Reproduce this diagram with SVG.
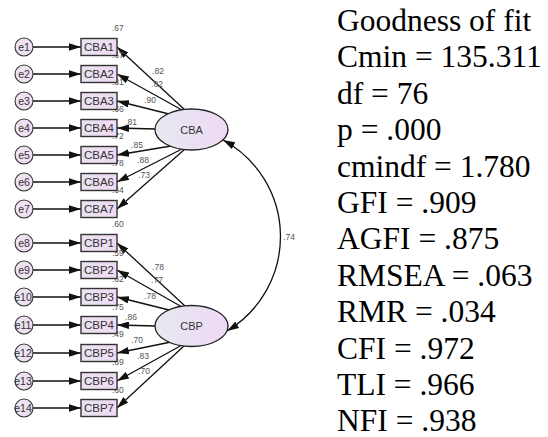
<svg xmlns="http://www.w3.org/2000/svg" width="548" height="437" viewBox="0 0 548 437">
<style>
.box{fill:url(#gb);stroke:#333;stroke-width:1.4}
.err{fill:url(#ge);stroke:#333;stroke-width:1.1}
.lat{fill:url(#gl);stroke:#222;stroke-width:1.3}
.bt{font-family:"Liberation Sans",Arial,sans-serif;font-size:11.5px;fill:#333;text-anchor:middle}
.et{font-family:"Liberation Sans",Arial,sans-serif;font-size:10.5px;fill:#333;text-anchor:middle}
.lt{font-family:"Liberation Sans",Arial,sans-serif;font-size:11px;fill:#333;text-anchor:middle}
.n{font-family:"Liberation Sans",Arial,sans-serif;font-size:8.5px;fill:#555}
.nm{font-family:"Liberation Sans",Arial,sans-serif;font-size:8.5px;fill:#555;text-anchor:middle}
.c{stroke:#111;stroke-width:1.3;fill:none;marker-end:url(#ah)}
.st{font-family:"Liberation Serif","Times New Roman",serif;font-size:31.5px;fill:#000}
</style>
<defs>
<linearGradient id="gl" x1="0" y1="0" x2="1" y2="0"><stop offset="0" stop-color="#e6e8f0"/><stop offset="1" stop-color="#efd9f5"/></linearGradient>
<linearGradient id="gb" x1="0" y1="0" x2="1" y2="0"><stop offset="0" stop-color="#e9e2ef"/><stop offset="1" stop-color="#f0daf4"/></linearGradient>
<linearGradient id="ge" x1="0" y1="0" x2="1" y2="0"><stop offset="0" stop-color="#ece6f0"/><stop offset="1" stop-color="#f1ddf4"/></linearGradient>
<marker id="ah" viewBox="0 0 12 7.5" refX="12" refY="3.75" markerWidth="12" markerHeight="7.5" markerUnits="userSpaceOnUse" orient="auto-start-reverse"><path d="M0,0 L12,3.75 L0,7.5 z" fill="#111"/></marker>
</defs>
<rect width="548" height="437" fill="#fff"/>
<g id="connectors">
<line class="c" x1="33" y1="47" x2="81" y2="47"/>
<line class="c" x1="33" y1="74" x2="81" y2="74"/>
<line class="c" x1="33" y1="101" x2="81" y2="101"/>
<line class="c" x1="33" y1="128" x2="81" y2="128"/>
<line class="c" x1="33" y1="155" x2="81" y2="155"/>
<line class="c" x1="33" y1="182" x2="81" y2="182"/>
<line class="c" x1="33" y1="209" x2="81" y2="209"/>
<line class="c" x1="33" y1="243" x2="81" y2="243"/>
<line class="c" x1="33" y1="270" x2="81" y2="270"/>
<line class="c" x1="33" y1="297" x2="81" y2="297"/>
<line class="c" x1="33" y1="325" x2="81" y2="325"/>
<line class="c" x1="33" y1="353" x2="81" y2="353"/>
<line class="c" x1="33" y1="381" x2="81" y2="381"/>
<line class="c" x1="33" y1="408" x2="81" y2="408"/>
<line class="c" x1="185" y1="110" x2="117" y2="47"/>
<line class="c" x1="182" y1="110" x2="117" y2="74"/>
<line class="c" x1="169" y1="114" x2="117" y2="101"/>
<line class="c" x1="156" y1="129" x2="117" y2="128"/>
<line class="c" x1="171" y1="146" x2="117" y2="155"/>
<line class="c" x1="182" y1="149" x2="117" y2="182"/>
<line class="c" x1="185" y1="149" x2="117" y2="209"/>
<line class="c" x1="185" y1="306" x2="117" y2="243"/>
<line class="c" x1="182" y1="307" x2="117" y2="270"/>
<line class="c" x1="169" y1="310" x2="117" y2="297"/>
<line class="c" x1="156" y1="326" x2="117" y2="325"/>
<line class="c" x1="171" y1="342" x2="117" y2="353"/>
<line class="c" x1="182" y1="345" x2="117" y2="381"/>
<line class="c" x1="185" y1="345" x2="117" y2="408"/>
<path class="c" d="M223,140 A110,110 0 0 1 227,331" style="marker-start:url(#ah)"/>
</g>
<g class="n">
<text x="112" y="31">.67</text>
<text x="112" y="58">.67</text>
<text x="112" y="85">.81</text>
<text x="112" y="112">.66</text>
<text x="112" y="139">.72</text>
<text x="112" y="166">.78</text>
<text x="112" y="193">.64</text>
<text x="112" y="227">.60</text>
<text x="112" y="256">.59</text>
<text x="112" y="282">.62</text>
<text x="112" y="310">.75</text>
<text x="112" y="337">.49</text>
<text x="112" y="365">.69</text>
<text x="112" y="393">.60</text>
</g>
<g>
<text class="nm" x="158" y="74">.82</text>
<text class="nm" x="157" y="87">.82</text>
<text class="nm" x="150" y="103">.90</text>
<text class="nm" x="131" y="125">.81</text>
<text class="nm" x="137" y="148">.85</text>
<text class="nm" x="143" y="163">.88</text>
<text class="nm" x="144" y="178">.73</text>
<text class="nm" x="158" y="270">.78</text>
<text class="nm" x="157" y="283">.77</text>
<text class="nm" x="150" y="299">.78</text>
<text class="nm" x="131" y="320">.86</text>
<text class="nm" x="137" y="343">.70</text>
<text class="nm" x="143" y="359">.83</text>
<text class="nm" x="144" y="374">.70</text>
<text class="nm" x="289" y="240">.74</text>
</g>
<g id="e1"><circle class="err" cx="24" cy="47" r="9"/><text class="et" x="24" y="51">e1</text></g>
<g id="e2"><circle class="err" cx="24" cy="74" r="9"/><text class="et" x="24" y="78">e2</text></g>
<g id="e3"><circle class="err" cx="24" cy="101" r="9"/><text class="et" x="24" y="105">e3</text></g>
<g id="e4"><circle class="err" cx="24" cy="128" r="9"/><text class="et" x="24" y="132">e4</text></g>
<g id="e5"><circle class="err" cx="24" cy="155" r="9"/><text class="et" x="24" y="159">e5</text></g>
<g id="e6"><circle class="err" cx="24" cy="182" r="9"/><text class="et" x="24" y="186">e6</text></g>
<g id="e7"><circle class="err" cx="24" cy="209" r="9"/><text class="et" x="24" y="213">e7</text></g>
<g id="e8"><circle class="err" cx="24" cy="243" r="9"/><text class="et" x="24" y="247">e8</text></g>
<g id="e9"><circle class="err" cx="24" cy="270" r="9"/><text class="et" x="24" y="274">e9</text></g>
<g id="e10"><circle class="err" cx="24" cy="297" r="9"/><text class="et" x="23" y="301">e10</text></g>
<g id="e11"><circle class="err" cx="24" cy="325" r="9"/><text class="et" x="23" y="329">e11</text></g>
<g id="e12"><circle class="err" cx="24" cy="353" r="9"/><text class="et" x="23" y="357">e12</text></g>
<g id="e13"><circle class="err" cx="24" cy="381" r="9"/><text class="et" x="23" y="385">e13</text></g>
<g id="e14"><circle class="err" cx="24" cy="408" r="9"/><text class="et" x="23" y="412">e14</text></g>
<g id="CBA1"><rect class="box" x="81" y="38.5" width="36" height="17"/><text class="bt" x="99" y="51">CBA1</text></g>
<g id="CBA2"><rect class="box" x="81" y="65.5" width="36" height="17"/><text class="bt" x="99" y="78">CBA2</text></g>
<g id="CBA3"><rect class="box" x="81" y="92.5" width="36" height="17"/><text class="bt" x="99" y="105">CBA3</text></g>
<g id="CBA4"><rect class="box" x="81" y="119.5" width="36" height="17"/><text class="bt" x="99" y="132">CBA4</text></g>
<g id="CBA5"><rect class="box" x="81" y="146.5" width="36" height="17"/><text class="bt" x="99" y="159">CBA5</text></g>
<g id="CBA6"><rect class="box" x="81" y="173.5" width="36" height="17"/><text class="bt" x="99" y="186">CBA6</text></g>
<g id="CBA7"><rect class="box" x="81" y="200.5" width="36" height="17"/><text class="bt" x="99" y="213">CBA7</text></g>
<g id="CBP1"><rect class="box" x="81" y="234.5" width="36" height="17"/><text class="bt" x="99" y="247">CBP1</text></g>
<g id="CBP2"><rect class="box" x="81" y="261.5" width="36" height="17"/><text class="bt" x="99" y="274">CBP2</text></g>
<g id="CBP3"><rect class="box" x="81" y="288.5" width="36" height="17"/><text class="bt" x="99" y="301">CBP3</text></g>
<g id="CBP4"><rect class="box" x="81" y="316.5" width="36" height="17"/><text class="bt" x="99" y="329">CBP4</text></g>
<g id="CBP5"><rect class="box" x="81" y="344.5" width="36" height="17"/><text class="bt" x="99" y="357">CBP5</text></g>
<g id="CBP6"><rect class="box" x="81" y="372.5" width="36" height="17"/><text class="bt" x="99" y="385">CBP6</text></g>
<g id="CBP7"><rect class="box" x="81" y="399.5" width="36" height="17"/><text class="bt" x="99" y="412">CBP7</text></g>
<g id="CBA"><ellipse class="lat" cx="191.5" cy="129.5" rx="36.5" ry="20.5"/><text class="lt" x="191.5" y="133.5">CBA</text></g>
<g id="CBP"><ellipse class="lat" cx="191.5" cy="326" rx="36.5" ry="20.5"/><text class="lt" x="191.5" y="330">CBP</text></g>
<g id="fit">
<text class="st" x="337" y="31">Goodness of fit</text>
<text class="st" x="337" y="67.4">Cmin = 135.311</text>
<text class="st" x="337" y="103.8">df = 76</text>
<text class="st" x="337" y="140.2">p = .000</text>
<text class="st" x="337" y="176.6">cmindf = 1.780</text>
<text class="st" x="337" y="213">GFI = .909</text>
<text class="st" x="337" y="249.4">AGFI = .875</text>
<text class="st" x="337" y="285.8">RMSEA = .063</text>
<text class="st" x="337" y="322.2">RMR = .034</text>
<text class="st" x="337" y="358.6">CFI = .972</text>
<text class="st" x="337" y="395">TLI = .966</text>
<text class="st" x="337" y="431.4">NFI = .938</text>
</g>
</svg>
